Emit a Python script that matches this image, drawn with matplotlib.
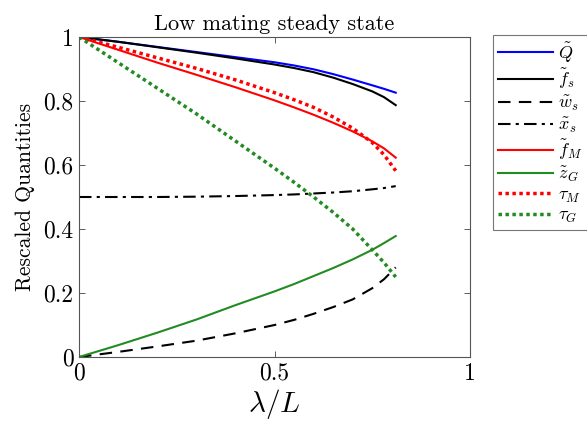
import numpy as np
import matplotlib
matplotlib.use("Agg")
import matplotlib.pyplot as plt

plt.rcParams['mathtext.fontset'] = 'cm'
plt.rcParams['font.family'] = 'serif'
plt.rcParams['font.serif'] = ['cmr10', 'DejaVu Serif']
plt.rcParams['axes.formatter.use_mathtext'] = True

# lambda / L
lam = [0.0, 0.1, 0.2, 0.3, 0.4, 0.5, 0.55, 0.6, 0.65, 0.7, 0.75, 0.78, 0.81]

Q = [1.0, 0.985, 0.969, 0.953, 0.937, 0.921, 0.911, 0.899, 0.884, 0.867, 0.849, 0.838, 0.826]
f_s = [1.0, 0.985, 0.968, 0.951, 0.933, 0.914, 0.903, 0.890, 0.873, 0.853, 0.830, 0.812, 0.787]
w_s = [0.0, 0.016, 0.033, 0.051, 0.074, 0.100, 0.116, 0.135, 0.156, 0.180, 0.215, 0.243, 0.280]
x_s = [0.5, 0.5, 0.5, 0.501, 0.503, 0.506, 0.508, 0.511, 0.514, 0.518, 0.524, 0.528, 0.534]
f_M = [1.0, 0.960, 0.920, 0.882, 0.843, 0.802, 0.780, 0.757, 0.732, 0.705, 0.674, 0.652, 0.623]
z_G = [0.0, 0.037, 0.076, 0.117, 0.162, 0.205, 0.228, 0.253, 0.278, 0.305, 0.335, 0.356, 0.378]
tau_M = [1.0, 0.968, 0.935, 0.902, 0.866, 0.826, 0.804, 0.780, 0.750, 0.715, 0.670, 0.632, 0.582]
tau_G = [1.0, 0.920, 0.840, 0.760, 0.675, 0.590, 0.546, 0.500, 0.452, 0.400, 0.335, 0.295, 0.250]

green = '#228b22'

fig = plt.figure(figsize=(5.87, 4.29), dpi=100)
ax = fig.add_axes([0.1346, 0.1678, 0.6661, 0.746])

kw = dict(solid_joinstyle='round', dash_joinstyle='round')
ax.plot(lam, Q, color='blue', lw=1.5, label=r'$\tilde{Q}$', **kw)
ax.plot(lam, f_s, color='black', lw=1.5, label=r'$\tilde{f}_s$', **kw)
ax.plot(lam, w_s, color='black', lw=1.5, dashes=(6, 4), label=r'$\tilde{w}_s$', **kw)
ax.plot(lam, x_s, color='black', lw=1.5, dashes=(6, 2.5, 1.5, 2.5), label=r'$\tilde{x}_s$', **kw)
ax.plot(lam, f_M, color='red', lw=1.5, label=r'$\tilde{f}_M$', **kw)
ax.plot(lam, z_G, color=green, lw=1.5, label=r'$\tilde{z}_G$', **kw)
ax.plot(lam, tau_M, color='red', lw=2.5, linestyle=(0, (1, 1)), label=r'$\tau_M$', **kw)
ax.plot(lam, tau_G, color=green, lw=2.5, linestyle=(0, (1, 1)), label=r'$\tau_G$', **kw)

ax.set_xlim(0, 1)
ax.set_ylim(0, 1)
ax.set_xticks([0, 0.5, 1])
ax.set_xticklabels(['0', '0.5', '1'])
ax.set_yticks([0, 0.2, 0.4, 0.6, 0.8, 1])
ax.set_yticklabels(['0', '0.2', '0.4', '0.6', '0.8', '1'])
ax.tick_params(direction='in', top=True, right=True, labelsize=17, length=4, width=0.6,
               color='#444444', pad=4)
for s in ax.spines.values():
    s.set_color('#555555')
    s.set_linewidth(0.8)

ax.set_title('Low mating steady state', fontsize=16, pad=5)
ax.set_xlabel(r'$\lambda/L$', fontsize=21, labelpad=2)
ax.set_ylabel('Rescaled Quantities', fontsize=15.5, labelpad=6)

leg = fig.legend(loc='upper left', bbox_to_anchor=(493 / 587, 1 - 35 / 429), fontsize=13,
                 frameon=True, fancybox=False, edgecolor='#555555', handlelength=3.0,
                 labelspacing=0.15, borderpad=0.3, handletextpad=0.3, borderaxespad=0)
leg.get_frame().set_linewidth(0.8)

fig.savefig('out.png', dpi=100)
